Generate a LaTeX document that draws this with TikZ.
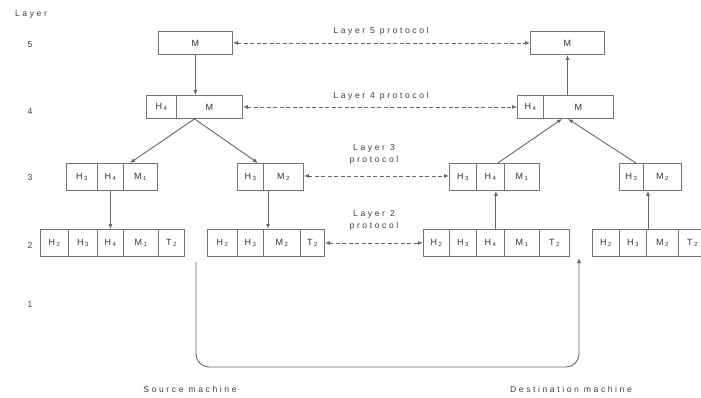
\documentclass[tikz,border=0pt]{standalone}
\usepackage{fontspec}
\setmainfont{Liberation Sans}
\newfontfamily\spacedfam[LetterSpace=30]{Liberation Sans}
\newcommand\lblfont{\fontsize{8.6}{12}\selectfont\spacedfam}
\newcommand\cellfont{\fontsize{9}{10}\selectfont\spacedfam}
\newcommand\sub[1]{\,\textsubscript{#1}}
\usetikzlibrary{arrows.meta,calc}
\begin{document}
\begin{tikzpicture}[x=1pt,y=-1pt,
  cell/.style={draw=black!55, line width=0.9pt, inner sep=0pt, anchor=north west, font=\cellfont, text=black!80},
  c5/.style={cell, minimum height=23pt},
  c3/.style={cell, minimum height=27pt},
  arr/.style={draw=black!60, line width=0.9pt, -{Latex[length=5pt,width=4pt]}},
  proto/.style={draw=black!60, line width=0.9pt, dash pattern=on 4pt off 2.5pt, {Latex[length=5pt,width=4pt]}-{Latex[length=5pt,width=4pt]}},
  lbl/.style={font=\lblfont, text=black!75, inner sep=0pt, align=center}]
\useasboundingbox[fill=white] (0,0) rectangle (701,397);

% layer labels
\node[lbl] (lay) at (31,14) {Layer};
\node[lbl] (n5) at (30,45) {5};
\node[lbl] (n4) at (30,112) {4};
\node[lbl] (n3) at (30,178) {3};
\node[lbl] (n2) at (30,245) {2};
\node[lbl] (n1) at (30,305) {1};

% layer 5
\node[c5, minimum width=74pt] (l5l) at (158,31) {M};
\node[c5, minimum width=74pt] (l5r) at (530,31) {M};

% layer 4
\node[c5, minimum width=30pt] (l4lH) at (146,95) {H\sub{4}};
\node[c5, minimum width=66pt] (l4lM) at (176,95) {M};
\node[c5, minimum width=26pt] (l4rH) at (517,95) {H\sub{4}};
\node[c5, minimum width=70pt] (l4rM) at (543,95) {M};

% layer 3
\node[c3, minimum width=31pt] (l3laH3) at (66,163) {H\sub{3}};
\node[c3, minimum width=26pt] (l3laH4) at (97,163) {H\sub{4}};
\node[c3, minimum width=34pt] (l3laM) at (123,163) {M\sub{1}};
\node[c3, minimum width=26pt] (l3lbH3) at (237,163) {H\sub{3}};
\node[c3, minimum width=40pt] (l3lbM) at (263,163) {M\sub{2}};
\node[c3, minimum width=27pt] (l3raH3) at (449,163) {H\sub{3}};
\node[c3, minimum width=28pt] (l3raH4) at (476,163) {H\sub{4}};
\node[c3, minimum width=35pt] (l3raM) at (504,163) {M\sub{1}};
\node[c3, minimum width=24pt] (l3rbH3) at (619,163) {H\sub{3}};
\node[c3, minimum width=38pt] (l3rbM) at (643,163) {M\sub{2}};

% layer 2
\node[c3, minimum width=28pt] (l2laH2) at (40,229) {H\sub{2}};
\node[c3, minimum width=29pt] (l2laH3) at (68,229) {H\sub{3}};
\node[c3, minimum width=26pt] (l2laH4) at (97,229) {H\sub{4}};
\node[c3, minimum width=35pt] (l2laM) at (123,229) {M\sub{1}};
\node[c3, minimum width=26pt] (l2laT) at (158,229) {T\sub{2}};

\node[c3, minimum width=30pt] (l2lbH2) at (207,229) {H\sub{2}};
\node[c3, minimum width=26pt] (l2lbH3) at (237,229) {H\sub{3}};
\node[c3, minimum width=37pt] (l2lbM) at (263,229) {M\sub{2}};
\node[c3, minimum width=24pt] (l2lbT) at (300,229) {T\sub{2}};

\node[c3, minimum width=26pt] (l2raH2) at (423,229) {H\sub{2}};
\node[c3, minimum width=27pt] (l2raH3) at (449,229) {H\sub{3}};
\node[c3, minimum width=28pt] (l2raH4) at (476,229) {H\sub{4}};
\node[c3, minimum width=35pt] (l2raM) at (504,229) {M\sub{1}};
\node[c3, minimum width=30pt] (l2raT) at (539,229) {T\sub{2}};

\node[c3, minimum width=27pt] (l2rbH2) at (592,229) {H\sub{2}};
\node[c3, minimum width=27pt] (l2rbH3) at (619,229) {H\sub{3}};
\node[c3, minimum width=32pt] (l2rbM) at (646,229) {M\sub{2}};
\node[c3, minimum width=28pt] (l2rbT) at (678,229) {T\sub{2}};

% vertical / diagonal connectors
\draw[arr] (l5l.south) -- (l4lM.north -| l5l.south);
\draw[arr] (l4rM.north -| l5r.south) -- (l5r.south);
\coordinate (l4lbot) at ($(l4lH.south west)!0.5!(l4lM.south east)$);
\draw[arr] (l4lbot) -- ([xshift=7pt]l3laM.north west);
\draw[arr] (l4lbot) -- ([xshift=-5pt]l3lbM.north west);
\draw[arr] ([xshift=-7pt]l3raH4.north east) -- ([xshift=19pt]l4rM.south west);
\draw[arr] ([xshift=-8pt]l3rbH3.north east) -- ([xshift=25pt]l4rM.south west);
\draw[arr] (l3laH4.south) -- (l2laH4.north);
\draw[arr] ([xshift=5pt]l3lbM.south west) -- ([xshift=5pt]l2lbM.north west);
\draw[arr] ([xshift=-9pt]l2raH4.north east) -- ([xshift=-9pt]l3raH4.south east);
\draw[arr] ([xshift=2pt]l2rbM.north west) -- ([xshift=5pt]l3rbM.south west);

% physical medium
\coordinate (ps) at (196,262);
\coordinate (pe) at (579,258);
\coordinate (pb) at (0,367);
\draw[arr, rounded corners=13pt] (ps) -- (ps |- pb) -- (pe |- pb) -- (pe);

% protocols
\draw[proto] (l5l.east) -- (l5r.west);
\draw[proto] (l4lM.east) -- (l4rH.west);
\draw[proto] ([yshift=1pt]l3lbM.east) -- ([yshift=1pt]l3raH3.west);
\draw[proto] (l2lbT.east) -- (l2raH2.west);
\node[lbl] (p5) at (381,31) {Layer 5 protocol};
\node[lbl] (p4) at (381,96) {Layer 4 protocol};
\node[lbl] (p3) at (374,154) {Layer 3\\protocol};
\node[lbl] (p2) at (374,220) {Layer 2\\protocol};

\node[lbl] (src) at (190,389) {Source machine};
\node[lbl] (dst) at (571,389) {Destination machine};
\end{tikzpicture}
\end{document}
